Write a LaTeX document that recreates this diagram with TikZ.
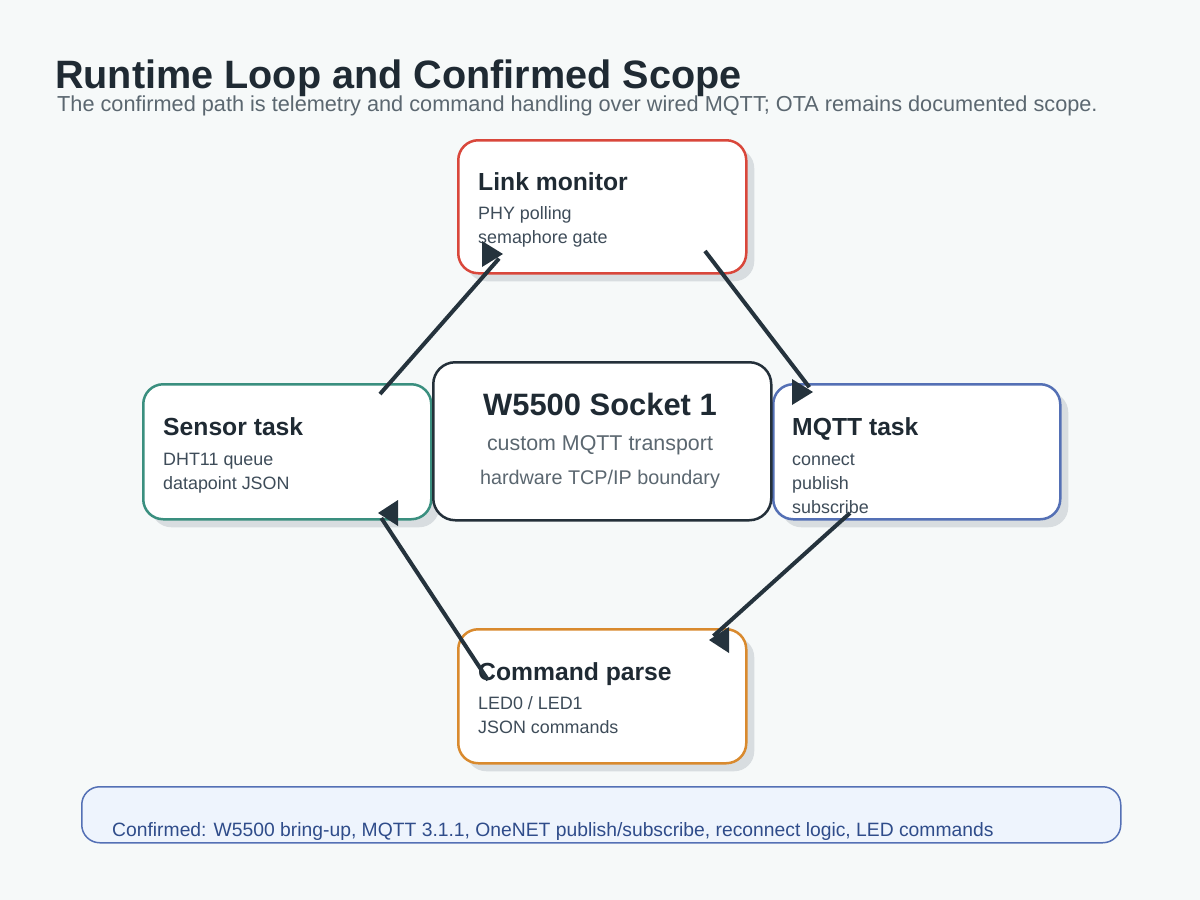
\documentclass[tikz,border=0pt]{standalone}
\usepackage{fontspec}
\setmainfont{Liberation Sans}
\usetikzlibrary{arrows.meta,shadows}
\definecolor{bg}{HTML}{F6F9F9}
\definecolor{ink}{HTML}{1F2A33}
\definecolor{subgray}{HTML}{5B6770}
\definecolor{bodyc}{HTML}{3E4C59}
\definecolor{shadowc}{HTML}{D8DDE0}
\definecolor{redc}{HTML}{D9473B}
\definecolor{tealc}{HTML}{3A8F7F}
\definecolor{bluec}{HTML}{5470B5}
\definecolor{orangec}{HTML}{D98A2E}
\definecolor{darkc}{HTML}{24303A}
\definecolor{arrowc}{HTML}{25333D}
\definecolor{bannerfill}{HTML}{EEF4FD}
\definecolor{bannertext}{HTML}{2F4C8A}
\tikzset{
  card/.style={draw, line width=2.5pt, rounded corners=20pt, fill=white,
    anchor=north west, inner sep=0pt,
    drop shadow={opacity=1, fill=shadowc, shadow xshift=8pt, shadow yshift=-8pt}},
  cardtitle/.style={anchor=base west, inner sep=0pt, font=\fontsize{24.7}{28}\selectfont\bfseries, text=ink},
  cardline/.style={anchor=base west, inner sep=0pt, font=\fontsize{17.9}{20}\selectfont, text=bodyc},
  flow/.style={draw=arrowc, line width=4pt, shorten >=6pt},
  headfill/.style={fill=arrowc},
}
\newcommand\arrowheadR[1]{\fill[headfill] (#1) -- ++(-21,-13) -- ++(0,26) -- cycle;}
\newcommand\arrowheadL[1]{\fill[headfill] (#1) -- ++(20,-13) -- ++(0,26) -- cycle;}
\begin{document}
\begin{tikzpicture}[x=1pt,y=-1pt]
\fill[bg] (0,0) rectangle (1200,900);
\useasboundingbox (0,0) rectangle (1200,900);

% title
\node[anchor=base west, inner sep=0pt, font=\fontsize{39.6}{42}\selectfont\bfseries, text=ink] (title) at (55,88) {Runtime Loop and Confirmed Scope};
\node[anchor=base west, inner sep=0pt, font=\fontsize{21.7}{24}\selectfont, text=subgray] (subtitle) at (57,111) {The confirmed path is telemetry and command handling over wired MQTT; OTA remains documented scope.};

% cards
\node[card, draw=redc, minimum width=288pt, minimum height=133pt] (link) at (457,139) {};
\node[card, draw=tealc, minimum width=288pt, minimum height=135pt] (sensor) at (142,383) {};
\node[card, draw=bluec, minimum width=287pt, minimum height=135pt] (mqtt) at (772,383) {};
\node[card, draw=orangec, minimum width=288pt, minimum height=134pt] (cmd) at (457,628) {};
\node[draw=darkc, line width=2.5pt, rounded corners=22pt, fill=white, anchor=north west, inner sep=0pt,
  minimum width=338pt, minimum height=158pt] (w5500) at (432,361) {};

% card texts
\node[cardtitle] (linkT) at (478,190) {Link monitor};
\node[cardline] (linkA) at (478,219) {PHY polling};
\node[cardline] (linkB) at (478,243) {semaphore gate};

\node[cardtitle] (sensorT) at (163,435) {Sensor task};
\node[cardline] (sensorA) at (163,465) {DHT11 queue};
\node[cardline] (sensorB) at (163,489) {datapoint JSON};

\node[cardtitle] (mqttT) at (792,435) {MQTT task};
\node[cardline] (mqttA) at (792,465) {connect};
\node[cardline] (mqttB) at (792,489) {publish};
\node[cardline] (mqttC) at (792,513) {subscribe};

\node[cardtitle] (cmdT) at (478,680) {Command parse};
\node[cardline] (cmdA) at (478,709) {LED0 / LED1};
\node[cardline] (cmdB) at (478,733) {JSON commands};

\node[anchor=base, inner sep=0pt, font=\fontsize{30.9}{34}\selectfont\bfseries, text=ink] (wT) at (600,415) {W5500 Socket 1};
\node[anchor=base, inner sep=0pt, font=\fontsize{21.4}{24}\selectfont, text=subgray] (wA) at (600,450) {custom MQTT transport};
\node[anchor=base, inner sep=0pt, font=\fontsize{19.8}{22}\selectfont, text=subgray] (wB) at (600,484) {hardware TCP/IP boundary};

% banner
\node[draw=bluec, line width=1.5pt, fill=bannerfill, rounded corners=18pt, anchor=north west, inner sep=0pt,
  minimum width=1039pt, minimum height=56pt] (banner) at (81,786) {};
\node[anchor=base west, inner sep=0pt, font=\fontsize{19.3}{22}\selectfont, text=bannertext] (bannerT) at (112,836)
  {Confirmed: W5500 bring-up, MQTT 3.1.1, OneNET publish/subscribe, reconnect logic, LED commands};

% connectors
\coordinate (s1) at (380,394);
\coordinate (e1) at (503,254);
\coordinate (s2) at (705,251);
\coordinate (e2) at (813,392);
\coordinate (s3) at (850,513);
\coordinate (e3) at (709,640);
\coordinate (s4) at (488,680);
\coordinate (e4) at (378,513);
\draw[flow] (s1) -- (e1);
\draw[flow] (s2) -- (e2);
\draw[flow] (s3) -- (e3);
\draw[flow] (s4) -- (e4);
\arrowheadR{e1}
\arrowheadR{e2}
\arrowheadL{e3}
\arrowheadL{e4}
\end{tikzpicture}
\end{document}
